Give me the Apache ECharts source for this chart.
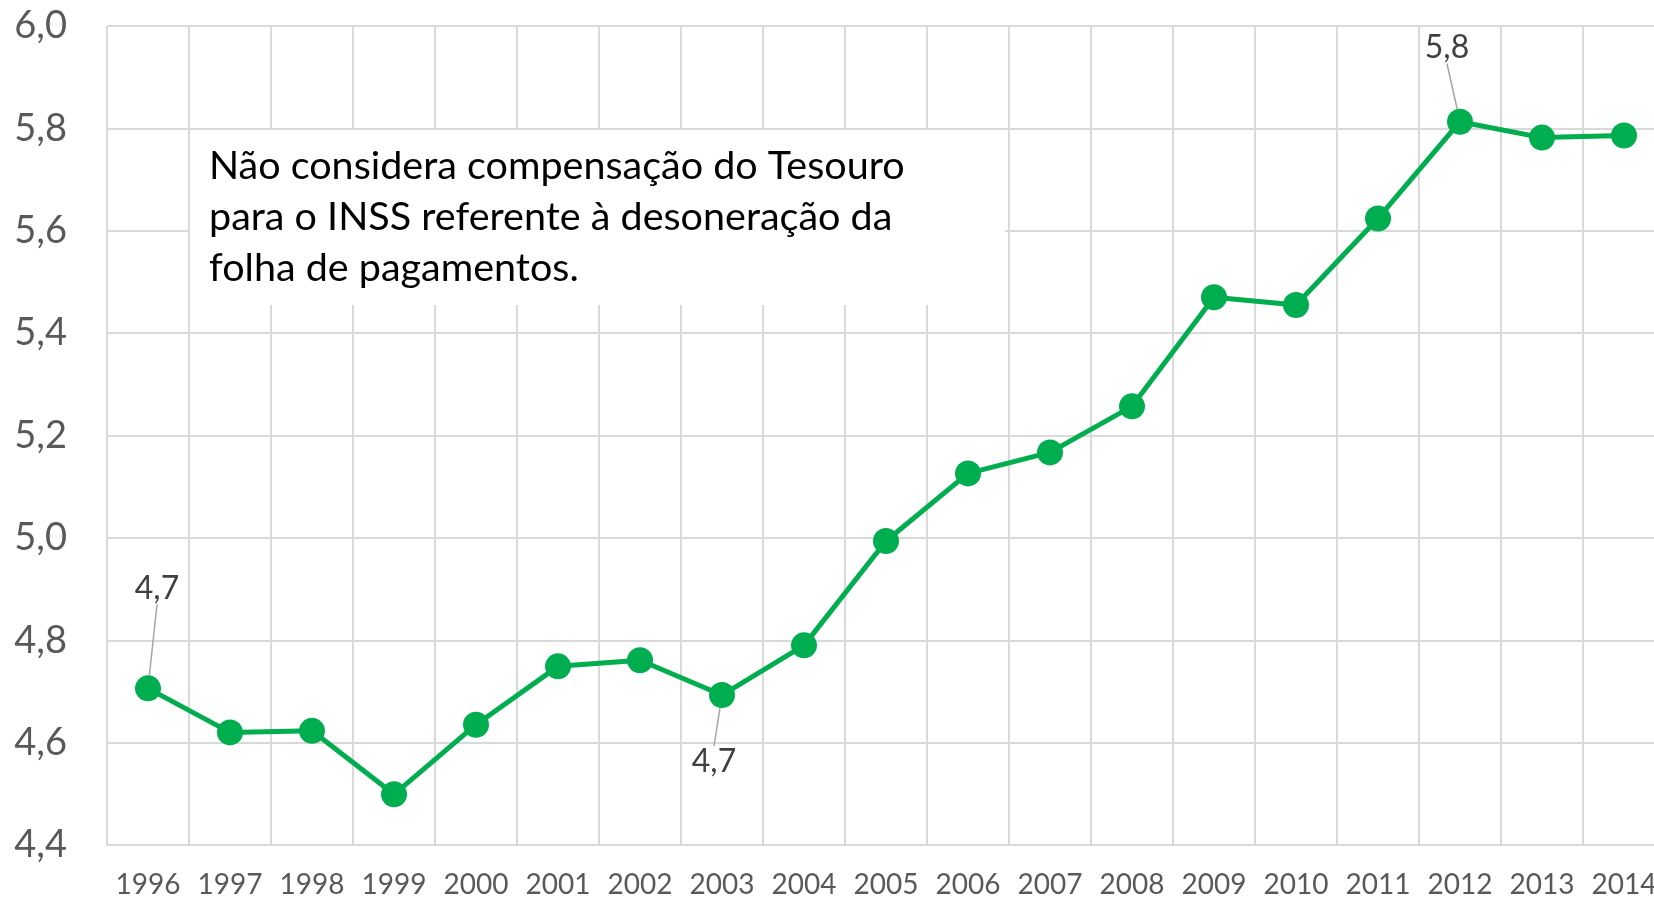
<!DOCTYPE html>
<html>
<head>
<meta charset="utf-8">
<script src="https://cdn.jsdelivr.net/npm/echarts@6/dist/echarts.min.js"></script>
<style>
  html, body { margin: 0; padding: 0; background: #fff; }
  #chart { width: 1654px; height: 900px; }
</style>
</head>
<body>
<div id="chart"></div>
<script>
// dados
const anos = ['1996', '1997', '1998', '1999', '2000', '2001', '2002', '2003', '2004', '2005',
    '2006', '2007', '2008', '2009', '2010', '2011', '2012', '2013', '2014']
const valores = [4.706, 4.620, 4.623, 4.499, 4.635, 4.749, 4.761, 4.693, 4.790, 4.994,
    5.126, 5.167, 5.257, 5.470, 5.455, 5.624, 5.813, 5.782, 5.786]
const yMin = 4.4
const yMax = 6.0
const yStep = 0.2
// pontos com rótulo: índice -> posição do rótulo
const rotulos = { 0: 'top', 7: 'bottom', 16: 'top' }
const nota = 'Não considera compensação do Tesouro\npara o INSS referente à desoneração da\nfolha de pagamentos.'

const verde = '#00ad4f'
const cinzaGrade = '#d9d9d9'

const chart = echarts.init(document.getElementById('chart'))

const fmt = v => v.toFixed(1).replace('.', ',')

const seriesData = valores.map((v, i) => {
    if (rotulos[i] === undefined) return v
    return {
        value: v,
        label: { show: true, position: rotulos[i] },
        labelLine: { show: true }
    }
})

// deslocamentos dos rótulos (linhas de chamada)
const deslocamentos = {
    0: { dx: 9, dy: -66 },
    7: { dx: -8, dy: 33 },
    16: { dx: -13, dy: -40 }
}

const option = {
    animation: false,
    textStyle: { fontFamily: 'Lato' },
    grid: {
        left: 107,
        top: 26,
        width: 1558,
        height: 819,
        containLabel: false,
        outerBoundsMode: 'none'
    },
    xAxis: {
        type: 'category',
        data: anos,
        boundaryGap: true,
        axisLine: { show: true, lineStyle: { color: cinzaGrade, width: 2 } },
        axisTick: { show: false },
        axisLabel: {
            color: '#595959',
            fontSize: 28,
            fontFamily: 'Lato',
            margin: 26,
            interval: 0
        },
        splitLine: { show: true, lineStyle: { color: cinzaGrade, width: 2 } }
    },
    yAxis: {
        type: 'value',
        min: yMin,
        max: yMax,
        interval: yStep,
        axisLine: { show: false },
        axisTick: { show: false },
        axisLabel: {
            color: '#595959',
            fontSize: 38,
            fontFamily: 'Lato',
            margin: 40,
            formatter: fmt
        },
        splitLine: { show: true, lineStyle: { color: cinzaGrade, width: 2 } }
    },
    series: [
        {
            type: 'line',
            data: seriesData,
            symbol: 'circle',
            symbolSize: 26,
            lineStyle: { color: verde, width: 5 },
            itemStyle: { color: verde },
            label: {
                show: false,
                color: '#404040',
                fontSize: 32,
                fontFamily: 'Lato',
                formatter: p => fmt(p.value)
            },
            labelLine: {
                show: false,
                lineStyle: { color: '#a6a6a6', width: 1.5 }
            },
            labelLayout: p => deslocamentos[p.dataIndex] || {},
            z: 5
        }
    ],
    graphic: [
        {
            type: 'rect',
            shape: { x: 190, y: 130, width: 815, height: 175 },
            style: { fill: '#ffffff' },
            z: 3
        },
        {
            type: 'text',
            x: 209,
            y: 141,
            style: {
                text: nota,
                fill: '#000000',
                font: '39.5px Lato',
                lineHeight: 51,
                verticalAlign: 'top'
            },
            z: 4
        }
    ]
}

chart.setOption(option)
</script>
</body>
</html>
